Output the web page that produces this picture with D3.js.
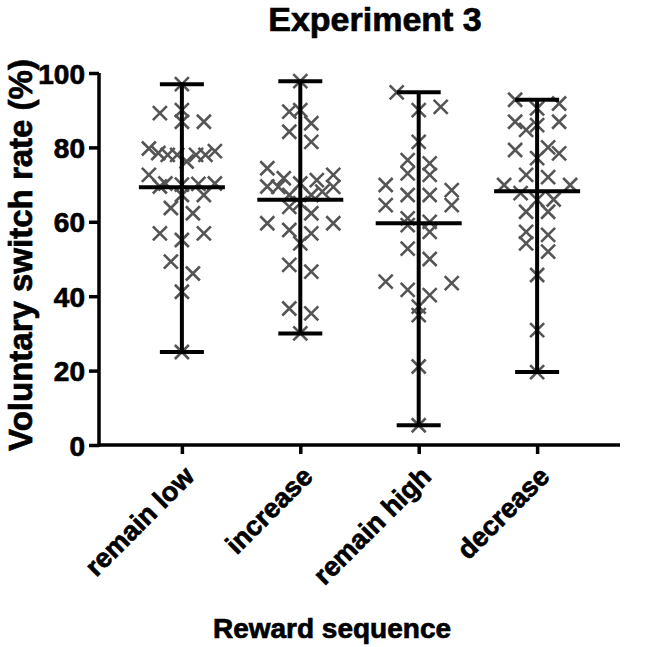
<!DOCTYPE html>
<html>
<head>
<meta charset="utf-8">
<script src="https://cdn.jsdelivr.net/npm/d3@7"></script>
<style>
  html, body { margin: 0; padding: 0; background: #fff; }
  svg text { font-family: "Liberation Sans", Arial, Helvetica, sans-serif; font-weight: bold; fill: #000; stroke: #000; stroke-width: 0.7px; }
</style>
</head>
<body>
<svg id="chart" width="657" height="647"></svg>
<script>
// ---------------- data ----------------
const categories = ["remain low", "increase", "remain high", "decrease"];

const remainLow = [97, 90.0, 89.2, 86.9, 86.9, 79.7, 78.0, 78.0, 78.5, 78.0, 78.0, 79.0,
  76.2, 72.6, 70.3, 70.0, 69.5, 70.2, 70.3, 67.2, 67.2, 62.3, 63.7, 56.9, 55.1, 56.9,
  49.3, 46.1, 41.2, 25.0];
const increase = [97.8, 90.0, 89.6, 86.5, 84.2, 81.5, 72.6, 74.4, 71.2, 71.7, 69.4, 70.3,
  69.5, 69.4, 68.1, 67.2, 67.2, 65.0, 64.0, 62.3, 59.6, 56.9, 57.8, 59.6, 54.2,
  46.6, 48.4, 36.7, 35.4, 30.0];
const remainHigh = [94.8, 90.9, 90.0, 81.5, 76.6, 75.7, 73.0, 72.6, 68.5, 69.9, 67.2, 67.2,
  64.5, 64.5, 60.9, 59.1, 60.0, 57.3, 52.8, 50.0, 43.5, 40.3, 41.7, 43.9, 37.2,
  34.9, 21.1, 5.3];
const decrease = [92.8, 91.8, 90.5, 86.9, 86.0, 84.7, 86.9, 79.3, 77.1, 78.4, 80.0, 72.6,
  69.9, 69.9, 72.0, 67.7, 65.9, 66.0, 62.7, 62.7, 57.3, 54.2, 52.0, 56.5, 45.7,
  30.9, 19.6];

const medians = [69.3, 65.9, 59.6, 68.2];
const yTicks = [0, 20, 40, 60, 80, 100];
const title = "Experiment 3";
const xTitle = "Reward sequence";
const yTitle = "Voluntary switch rate (%)";

const seriesValues = [remainLow, increase, remainHigh, decrease];

// ---------------- layout ----------------
const svg = d3.select("#chart");
const axisLeft = 99, axisRight = 620, yTop = 73, yBottom = 445;

const x = d3.scalePoint().domain(categories).range([axisLeft, axisRight]).padding(0.7);
const y = d3.scaleLinear().domain([0, 100]).range([yBottom, yTop]);

const markerHalf = 7;
const maxSpread = 33, maxGap = 22, binSize = 5;

// Prism-like row layout: values are binned by value, each bin spread symmetrically
function arrange(values) {
  const bins = d3.groups(values, v => Math.floor(v / binSize));
  const out = [];
  bins.forEach(([, vals]) => {
    const s = vals.slice().sort(d3.ascending);
    const n = s.length;
    const gap = n > 1 ? Math.min(maxGap, 2 * maxSpread / (n - 1)) : 0;
    s.forEach((v, i) => {
      let slot;
      if (n % 2 === 1) {
        const k = Math.ceil(i / 2);
        slot = i === 0 ? 0 : (i % 2 === 1 ? k : -k);
      } else {
        const k = Math.floor(i / 2) + 0.5;
        slot = i % 2 === 0 ? k : -k;
      }
      out.push({ v, dx: slot * gap });
    });
  });
  return out;
}

// axes
const yAxis = d3.axisLeft(y).tickValues(yTicks).tickSize(10).tickPadding(4);
const gy = svg.append("g").attr("transform", `translate(${axisLeft},0)`).call(yAxis);
gy.select(".domain").attr("stroke", "#000").attr("stroke-width", 3.5)
  .attr("d", `M0,${yTop}V${yBottom + 1.5}`);
gy.selectAll(".tick line").attr("stroke", "#000").attr("stroke-width", 3.5);
gy.selectAll(".tick text").style("font-size", "28px").attr("dy", "0.36em");

const xAxis = d3.axisBottom(x).tickSize(9).tickFormat("");
const gx = svg.append("g").attr("transform", `translate(0,${yBottom})`).call(xAxis);
gx.select(".domain").attr("stroke", "#000").attr("stroke-width", 3.5)
  .attr("d", `M${axisLeft - 1.5},0H${axisRight}`);
gx.selectAll(".tick line").attr("stroke", "#000").attr("stroke-width", 3.5);

// rotated category labels
svg.append("g").selectAll("text").data(categories).join("text")
  .attr("transform", d => `translate(${x(d) + 14},${yBottom + 33}) rotate(-45)`)
  .attr("text-anchor", "end")
  .style("font-size", "27px")
  .text(d => d);

// points
const groups = svg.append("g");
categories.forEach((c, gi) => {
  const cx = x(c);
  const pts = arrange(seriesValues[gi]);
  const g = groups.append("g");
  g.selectAll("path").data(pts).join("path")
    .attr("d", d => {
      const px = cx + d.dx, py = y(d.v), h = markerHalf;
      return `M${px - h},${py - h}L${px + h},${py + h}M${px - h},${py + h}L${px + h},${py - h}`;
    })
    .attr("stroke", "#555")
    .attr("stroke-width", 2.6)
    .attr("fill", "none");
});

// range bars and medians
categories.forEach((c, gi) => {
  const cx = x(c);
  const [lo, hi] = d3.extent(seriesValues[gi]);
  const g = svg.append("g").attr("stroke", "#000").attr("stroke-width", 4);
  g.append("line").attr("x1", cx).attr("x2", cx).attr("y1", y(lo)).attr("y2", y(hi));
  g.append("line").attr("x1", cx - 22).attr("x2", cx + 22).attr("y1", y(lo)).attr("y2", y(lo));
  g.append("line").attr("x1", cx - 22).attr("x2", cx + 22).attr("y1", y(hi)).attr("y2", y(hi));
  g.append("line").attr("x1", cx - 43).attr("x2", cx + 43).attr("y1", y(medians[gi])).attr("y2", y(medians[gi]));
});

// titles
svg.append("text").attr("x", 375).attr("y", 31).attr("text-anchor", "middle")
  .style("font-size", "34px").text(title);
svg.append("text").attr("x", 332).attr("y", 638).attr("text-anchor", "middle")
  .style("font-size", "28px").text(xTitle);
svg.append("text").attr("transform", `translate(32,${(yTop + yBottom) / 2 - 4}) rotate(-90)`)
  .attr("text-anchor", "middle").style("font-size", "33px").text(yTitle);
</script>
</body>
</html>
